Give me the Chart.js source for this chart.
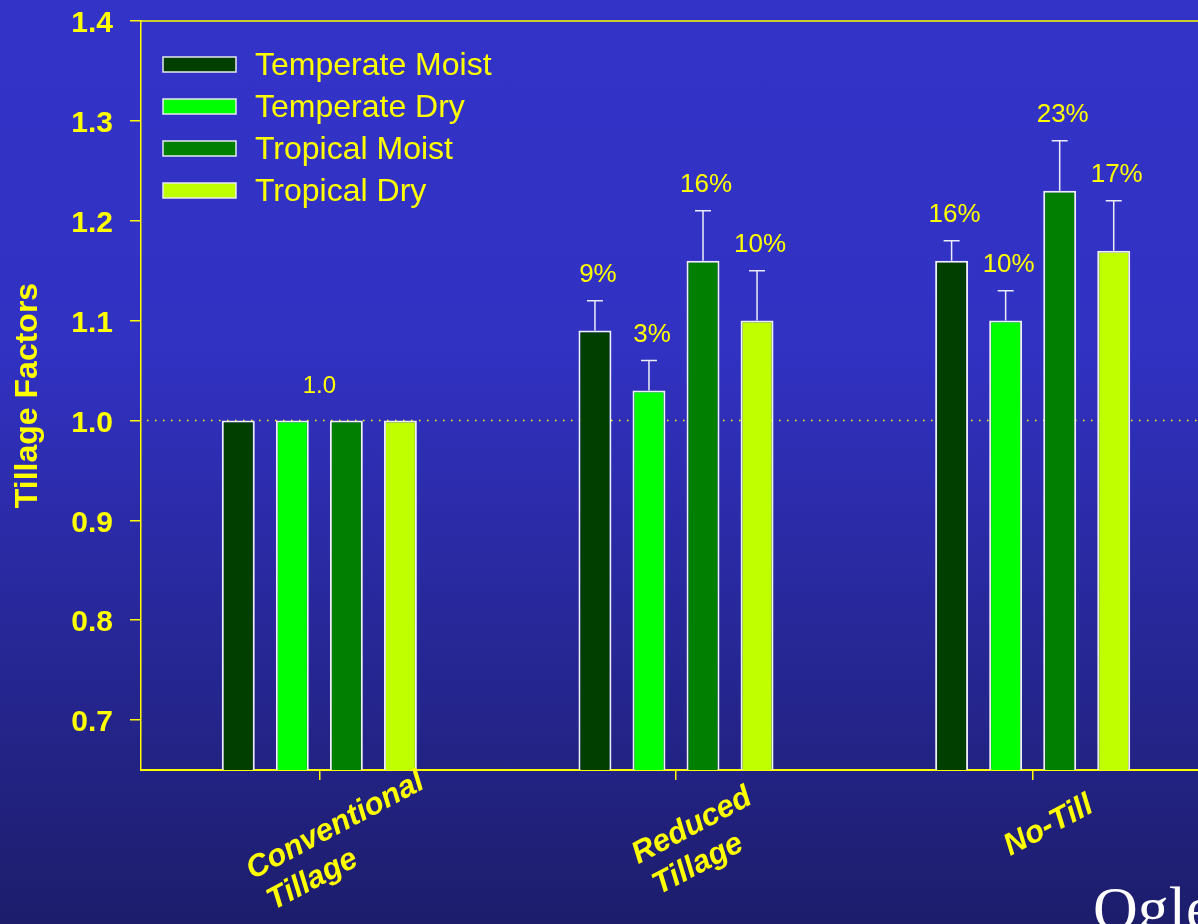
<!DOCTYPE html>
<html>
<head>
<meta charset="utf-8">
<script src="https://cdn.jsdelivr.net/npm/chart.js@4.4.0/dist/chart.umd.min.js"></script>
<style>
  html, body { margin: 0; padding: 0; width: 1198px; height: 924px; overflow: hidden; }
  body { background: linear-gradient(to bottom, #3333c8 0%, #3131c2 38%, #1d1d6c 100%); }
  canvas { display: block; }
</style>
</head>
<body>
<canvas id="myChart" width="1211" height="924"></canvas>
<script>
// datos
var categorias = [["Conventional", "Tillage"], ["Reduced", "Tillage"], ["No-Till"]];
var series = ["Temperate Moist", "Temperate Dry", "Tropical Moist", "Tropical Dry"];
var colores = ["#003f00", "#00ff00", "#007f00", "#c0ff00"];

var temperateMoist = [1.00, 1.09, 1.16];
var temperateDry   = [1.00, 1.03, 1.10];
var tropicalMoist  = [1.00, 1.16, 1.23];
var tropicalDry    = [1.00, 1.10, 1.17];

// extremo superior de las barras de error
var errTemperateMoist = [null, 1.12, 1.18];
var errTemperateDry   = [null, 1.06, 1.13];
var errTropicalMoist  = [null, 1.21, 1.28];
var errTropicalDry    = [null, 1.15, 1.22];

var pctTemperateMoist = ["", "9%", "16%"];
var pctTemperateDry   = ["", "3%", "10%"];
var pctTropicalMoist  = ["", "16%", "23%"];
var pctTropicalDry    = ["", "10%", "17%"];

var notaGrupo = ["1.0", "", ""];
var yTicks = [0.7, 0.8, 0.9, 1.0, 1.1, 1.2, 1.3, 1.4];
var lineaRef = 1.0;
var fuente = "Ogle et al. (2005)";

var valores = [temperateMoist, temperateDry, tropicalMoist, tropicalDry];
var errores = [errTemperateMoist, errTemperateDry, errTropicalMoist, errTropicalDry];
var porcentajes = [pctTemperateMoist, pctTemperateDry, pctTropicalMoist, pctTropicalDry];

var amarillo = "#ffff00";

var extras = {
  id: 'extras',
  beforeDatasetsDraw: function(chart) {
    var ctx = chart.ctx, a = chart.chartArea, y = chart.scales.y;
    ctx.save();
    // linea punteada en 1.0
    var yr = y.getPixelForValue(lineaRef);
    ctx.strokeStyle = amarillo;
    ctx.lineWidth = 1.5;
    ctx.setLineDash([1.5, 6.5]);
    ctx.beginPath();
    ctx.moveTo(a.left + 6, yr);
    ctx.lineTo(a.right, yr);
    ctx.stroke();
    ctx.setLineDash([]);
    // borde superior
    ctx.beginPath();
    ctx.moveTo(a.left, a.top);
    ctx.lineTo(a.right, a.top);
    ctx.stroke();
    ctx.restore();
  },
  afterDatasetsDraw: function(chart) {
    var ctx = chart.ctx, a = chart.chartArea, y = chart.scales.y, x = chart.scales.x;
    ctx.save();
    // barras de error y porcentajes
    for (var i = 0; i < valores.length; i++) {
      var meta = chart.getDatasetMeta(i);
      for (var j = 0; j < valores[i].length; j++) {
        var bar = meta.data[j];
        if (errores[i][j] != null) {
          var yt = y.getPixelForValue(errores[i][j]);
          ctx.strokeStyle = "#ececf8";
          ctx.lineWidth = 1.5;
          ctx.beginPath();
          ctx.moveTo(bar.x, bar.y);
          ctx.lineTo(bar.x, yt);
          ctx.moveTo(bar.x - 8, yt);
          ctx.lineTo(bar.x + 8, yt);
          ctx.stroke();
          if (porcentajes[i][j]) {
            ctx.fillStyle = amarillo;
            ctx.font = '26px "Liberation Sans", Arial, sans-serif';
            ctx.textAlign = 'center';
            ctx.textBaseline = 'middle';
            ctx.fillText(porcentajes[i][j], bar.x + 3, yt - 26);
          }
        }
      }
    }
    // nota del grupo convencional
    for (var k = 0; k < notaGrupo.length; k++) {
      if (!notaGrupo[k]) continue;
      var maxv = Math.max(temperateMoist[k], temperateDry[k], tropicalMoist[k], tropicalDry[k]);
      ctx.fillStyle = amarillo;
      ctx.font = '24px "Liberation Sans", Arial, sans-serif';
      ctx.textAlign = 'center';
      ctx.textBaseline = 'middle';
      ctx.fillText(notaGrupo[k], x.getPixelForValue(k), y.getPixelForValue(maxv) - 34);
    }
    // leyenda
    for (var s = 0; s < series.length; s++) {
      var cy = 64 + s * 42;
      ctx.fillStyle = colores[s];
      ctx.fillRect(a.left + 22, cy - 7, 73, 15);
      ctx.strokeStyle = "#e8e8f0";
      ctx.lineWidth = 1.5;
      ctx.strokeRect(a.left + 22, cy - 7, 73, 15);
      ctx.fillStyle = amarillo;
      ctx.font = '32px "Liberation Sans", Arial, sans-serif';
      ctx.textAlign = 'left';
      ctx.textBaseline = 'middle';
      ctx.fillText(series[s], a.left + 114, cy + 2);
    }
    // etiquetas del eje x, giradas
    ctx.font = 'italic bold 31px "Liberation Sans", Arial, sans-serif';
    ctx.fillStyle = amarillo;
    ctx.textAlign = 'left';
    ctx.textBaseline = 'middle';
    for (var c = 0; c < categorias.length; c++) {
      var px = x.getPixelForValue(c);
      var lineas = categorias[c];
      var w1 = ctx.measureText(lineas[0]).width;
      ctx.save();
      ctx.translate(px + 16, x.top + 56);
      ctx.rotate(-28 * Math.PI / 180);
      for (var l = 0; l < lineas.length; l++) {
        ctx.fillText(lineas[l], -w1 / 2 + l * 4, l * 37);
      }
      ctx.restore();
    }
    // cita
    ctx.fillStyle = "#ffffff";
    ctx.font = '62px "Liberation Serif", "Times New Roman", serif';
    ctx.textAlign = 'left';
    ctx.textBaseline = 'alphabetic';
    ctx.fillText(fuente, 1093, 929);
    ctx.restore();
  }
};

var datasets = series.map(function(nombre, i) {
  return {
    label: nombre,
    data: valores[i],
    backgroundColor: colores[i],
    borderColor: "#f0f0f4",
    borderWidth: 2,
    categoryPercentage: 0.606,
    barPercentage: 0.61
  };
});

var canvas = document.getElementById("myChart");
var ctx = canvas.getContext("2d");
var chart = new Chart(ctx, {
  type: "bar",
  data: {
    labels: categorias,
    datasets: datasets
  },
  options: {
    responsive: false,
    animation: false,
    layout: { padding: { top: 21, left: 0, right: 0, bottom: 0 } },
    plugins: {
      legend: { display: false },
      tooltip: { enabled: false }
    },
    scales: {
      x: {
        ticks: { display: false },
        grid: { display: true, drawOnChartArea: false, offset: false, tickLength: 10, color: amarillo, lineWidth: 1.5 },
        border: { color: amarillo, width: 2 },
        afterFit: function(s) { s.height = 154; s.paddingLeft = 0; s.paddingRight = 0; }
      },
      y: {
        min: 0.65,
        max: 1.4,
        afterBuildTicks: function(s) { s.ticks = yTicks.map(function(v) { return { value: v }; }); },
        ticks: {
          color: amarillo,
          padding: 17,
          labelOffset: 3,
          font: { family: '"Liberation Sans", Arial, sans-serif', size: 30, weight: 'bold' },
          callback: function(v) { return Number(v).toFixed(1); }
        },
        grid: { drawOnChartArea: false, tickLength: 11, color: amarillo, lineWidth: 1.5 },
        border: { color: amarillo, width: 1.5 },
        title: {
          display: true,
          text: "Tillage Factors",
          color: amarillo,
          font: { family: '"Liberation Sans", Arial, sans-serif', size: 32, weight: 'bold' },
          padding: { top: 9, bottom: 0 }
        },
        afterFit: function(s) { s.width = 141; s.paddingTop = 0; s.paddingBottom = 0; }
      }
    }
  },
  plugins: [extras]
});
</script>
</body>
</html>
